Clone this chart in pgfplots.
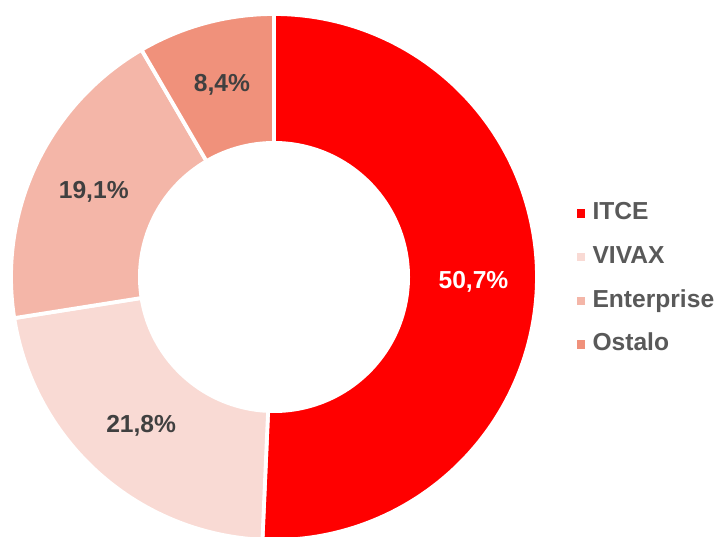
\documentclass[border=0pt]{standalone}
\usepackage{pgfplots}
\pgfplotsset{compat=1.18}
\usepackage{fontspec}
\setmainfont{Liberation Sans}
\definecolor{cITCE}{HTML}{FF0000}
\definecolor{cVIVAX}{HTML}{F9DAD4}
\definecolor{cEnt}{HTML}{F4B6A8}
\definecolor{cOst}{HTML}{F0917B}
\definecolor{lbl}{HTML}{404040}
\definecolor{leg}{HTML}{595959}
\newcommand\lf{\fontsize{12.3pt}{14.8pt}\selectfont\bfseries}
% data (percent)
\def\vA{50.7}\def\vB{21.8}\def\vC{19.1}\def\vD{8.4}
\def\cx{274}\def\cy{259}\def\ro{263}\def\ri{136}\def\rm{199.5}
\pgfmathsetmacro\aA{90}
\pgfmathsetmacro\aB{\aA-3.6*\vA}
\pgfmathsetmacro\aC{\aB-3.6*\vB}
\pgfmathsetmacro\aD{\aC-3.6*\vC}
\pgfmathsetmacro\aE{\aD-3.6*\vD}
\pgfmathsetmacro\mA{(\aA+\aB)/2}
\pgfmathsetmacro\mB{(\aB+\aC)/2}
\pgfmathsetmacro\mC{(\aC+\aD)/2}
\pgfmathsetmacro\mD{(\aD+\aE)/2}
\newcommand\sector[3]{%
  \addplot[fill=#1, draw=white, line width=1.9pt, line join=round, domain=#3:#2, samples=120, variable=\t]
    ({\cx+\ro*cos(\t)},{\cy+\ro*sin(\t)}) -- (axis cs:\cx,\cy) -- cycle;}
\begin{document}
\begin{tikzpicture}
\begin{axis}[
  width=361pt, height=268pt, scale only axis,
  xmin=0, xmax=722, ymin=0, ymax=536,
  hide axis, clip=true,
  legend cell align=left,
  legend image code/.code={\fill[#1, draw=none] (0pt,-2.1pt) rectangle (4.2pt,2.1pt);},
  legend style={at={(axis cs:576.5,334.5)}, anchor=north west, draw=none, fill=none,
    inner sep=0pt, font=\lf, text=leg, column sep=3.6pt, row sep=10.35pt,
    nodes={inner xsep=0pt, inner ysep=0pt, text height=8.9pt, text depth=2.6pt}},
]
\sector{cITCE}{\aA}{\aB}
\addlegendentry{ITCE}
\sector{cVIVAX}{\aB}{\aC}
\addlegendentry{VIVAX}
\sector{cEnt}{\aC}{\aD}
\addlegendentry{Enterprise}
\sector{cOst}{\aD}{\aE}
\addlegendentry{Ostalo}
\addplot[fill=white, draw=none, domain=0:360, samples=200, variable=\t, forget plot]
  ({\cx+\ri*cos(\t)},{\cy+\ri*sin(\t)}) -- cycle;
\node[font=\lf, text=white] at (axis cs:{\cx+\rm*cos(\mA)},{\cy+\rm*sin(\mA)}) {50,7\%};
\node[font=\lf, text=lbl] at (axis cs:{\cx+\rm*cos(\mB)},{\cy+\rm*sin(\mB)}) {21,8\%};
\node[font=\lf, text=lbl] at (axis cs:{\cx+\rm*cos(\mC)},{\cy+\rm*sin(\mC)}) {19,1\%};
\node[font=\lf, text=lbl] at (axis cs:{\cx+\rm*cos(\mD)},{\cy+\rm*sin(\mD)}) {8,4\%};
\end{axis}
\pgfresetboundingbox
\path (current axis.south west) rectangle (current axis.north east);
\end{tikzpicture}
\end{document}
